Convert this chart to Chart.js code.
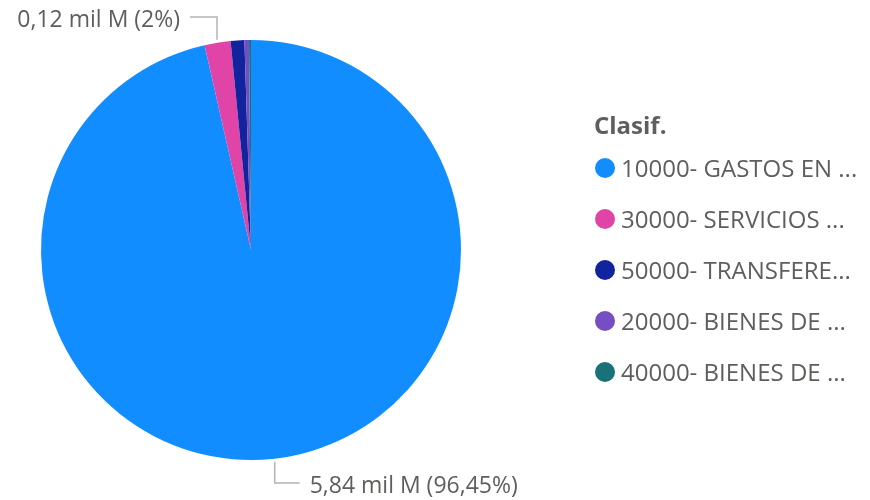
<!DOCTYPE html>
<html><head><meta charset="utf-8">
<script src="https://cdn.jsdelivr.net/npm/chart.js@4"></script>
<style>
html,body{margin:0;padding:0;background:#fff;}
#wrap{position:relative;width:870px;height:500px;overflow:hidden;}
#c{position:absolute;left:0;top:0;}
#legend{position:absolute;left:594px;top:108px;font-family:"Segoe UI","Open Sans",sans-serif;color:#605E5C;}
#legend .title{font-weight:700;font-size:24px;height:34px;line-height:34px;color:#605E5C;}
#legend .item{display:flex;align-items:center;height:51px;font-size:24px;}
#legend .dot{width:20px;height:20px;border-radius:50%;flex:0 0 20px;margin-right:6px;margin-left:1px;}
#legend .txt{white-space:nowrap;}
</style></head>
<body><div id="wrap"><canvas id="c" width="870" height="500"></canvas><div id="legend"></div></div>
<script>
const legendTitle = "Clasif.";
const categories = ["10000- GASTOS EN PERSONAL","30000- SERVICIOS NO PERSONALES","50000- TRANSFERENCIAS","20000- BIENES DE CONSUMO","40000- BIENES DE USO"];
const values = [5.84, 0.121, 0.0636, 0.0212, 0.0091]; // mil M
const colors = ["#118DFF","#E044A7","#12239E","#744EC2","#197278"];
const labelTexts = ["5,84 mil M (96,45%)","0,12 mil M (2%)","","",""];

const LEGEND_FONT='24px "Segoe UI","Open Sans",sans-serif';
const MAXW=238;
const mctx=document.createElement('canvas').getContext('2d');
mctx.font=LEGEND_FONT;
function fit(s){
  if(mctx.measureText(s).width<=MAXW) return s;
  let n=s.length;
  while(n>0 && mctx.measureText(s.slice(0,n)+'...').width>MAXW) n--;
  return s.slice(0,n)+'...';
}

const lg = document.getElementById('legend');
const t = document.createElement('div'); t.className='title'; t.textContent=legendTitle; lg.appendChild(t);
categories.forEach((c,i)=>{
  const it=document.createElement('div'); it.className='item';
  const d=document.createElement('span'); d.className='dot'; d.style.background=colors[i];
  const s=document.createElement('span'); s.className='txt'; s.textContent=fit(c); s.title=c;
  it.appendChild(d); it.appendChild(s); lg.appendChild(it);
});

const labelPlugin = {
  id:'leaderLabels',
  afterDatasetsDraw(chart){
    const ctx=chart.ctx;
    const meta=chart.getDatasetMeta(0);
    ctx.save();
    ctx.font='23px "Segoe UI","Open Sans",sans-serif';
    ctx.fillStyle='#605E5C';
    ctx.strokeStyle='#B3B3B3';
    ctx.lineWidth=1.5;
    meta.data.forEach((arc,i)=>{
      const txt=labelTexts[i]; if(!txt) return;
      const p=arc.getProps(['x','y','startAngle','endAngle','outerRadius'],true);
      const mid=(p.startAngle+p.endAngle)/2;
      const x0=p.x+Math.cos(mid)*(p.outerRadius+3);
      const y0=p.y+Math.sin(mid)*(p.outerRadius+3);
      const down=Math.sin(mid)>0;
      const y1= down ? 483 : 17;
      const right=Math.cos(mid)>=0;
      const x2= right ? x0+25 : x0-27;
      ctx.beginPath(); ctx.moveTo(x0,y0); ctx.lineTo(x0,y1); ctx.lineTo(x2,y1); ctx.stroke();
      ctx.textBaseline='middle';
      if(right){ctx.textAlign='left'; ctx.fillText(txt,x2+10,y1+3);}
      else {ctx.textAlign='right'; ctx.fillText(txt,x2-10,y1+3);}
    });
    ctx.restore();
  }
};

new Chart(document.getElementById('c'),{
  type:'pie',
  data:{labels:categories,datasets:[{data:values,backgroundColor:colors,borderWidth:0}]},
  options:{
    responsive:false,animation:false,
    layout:{padding:{left:41,right:409,top:40,bottom:40}},
    plugins:{legend:{display:false},tooltip:{enabled:false}}
  },
  plugins:[labelPlugin]
});
</script></body></html>
